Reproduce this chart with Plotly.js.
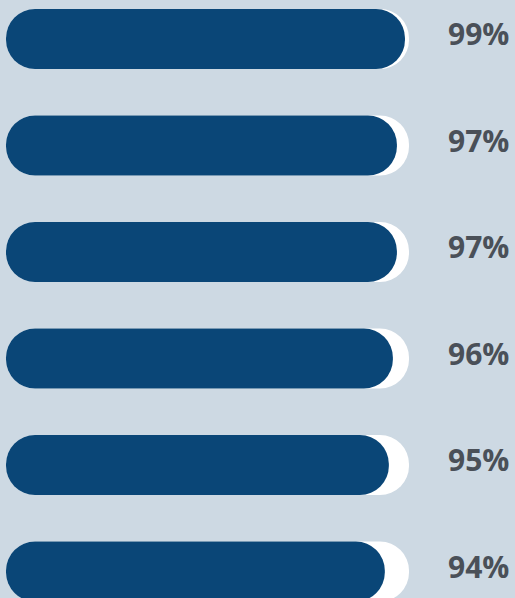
<!DOCTYPE html>
<html>
<head>
<meta charset="utf-8">
<script src="https://cdn.plot.ly/plotly-3.0.1.min.js"></script>
<style>html,body{margin:0;padding:0;background:#cdd9e3;}#chart{width:515px;height:598px;}</style>
</head>
<body>
<div id="chart"></div>
<script>
// Data
const rows = [0, 1, 2, 3, 4, 5];
const values = [99, 97, 97, 96, 95, 94];
const labels = ["99%", "97%", "97%", "96%", "95%", "94%"];
const fullValue = 100;

const bg = "#cdd9e3";
const dark = "#0a4677";
const track = "#ffffff";
const barThickness = 0.563;

function pill(vals, color, name) {
  return {
    type: "bar", orientation: "h", y: rows, x: vals, base: 0, width: barThickness,
    marker: { color: color, cornerradius: "50%", line: { width: 0 } },
    hoverinfo: "skip", showlegend: false, name: name
  };
}

const traces = [
  pill(rows.map(() => fullValue), track, "track"),
  pill(values, dark, "value")
];

const annotations = rows.map((r, i) => ({
  x: 109.2, y: r, xref: "x", yref: "y", text: labels[i],
  showarrow: false, xanchor: "left", yanchor: "middle", yshift: 5,
  font: { family: "Open Sans", size: 30, color: "#4a5058", weight: 700 }
}));

const layout = {
  width: 515, height: 598,
  margin: { l: 0, r: 0, t: 0, b: 0 },
  paper_bgcolor: bg, plot_bgcolor: bg,
  barmode: "overlay",
  xaxis: { range: [-1.489, 126.3], visible: false, fixedrange: true },
  yaxis: { range: [5.249, -0.366], visible: false, fixedrange: true },
  annotations: annotations,
  showlegend: false
};

Plotly.newPlot("chart", traces, layout, { displayModeBar: false, staticPlot: true });
</script>
</body>
</html>
